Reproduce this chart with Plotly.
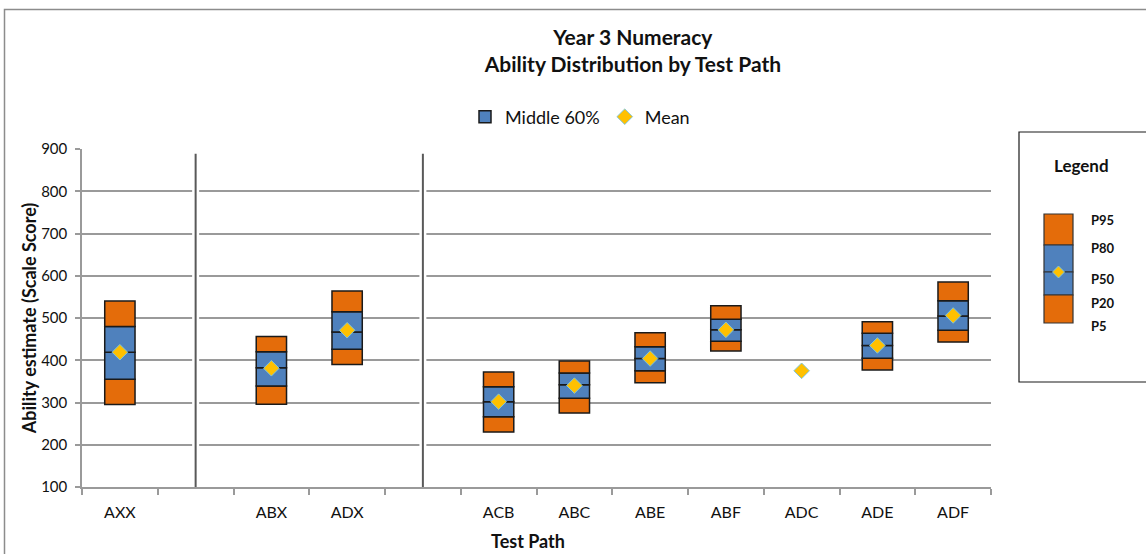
import plotly.graph_objects as go

# ---------------- data ----------------
categories = ["AXX", "", "ABX", "ADX", "", "ACB", "ABC", "ABE", "ABF", "ADC", "ADE", "ADF"]
p5 = [295, None, 296, 390, None, 230, 275, 347, 422, None, 377, 443]
p20 = [355, None, 339, 426, None, 266, 310, 375, 445, None, 405, 471]
p50 = [419, None, 382, 467, None, 302, 342, 404, 472, None, 435, 505]
p80 = [480, None, 420, 515, None, 337, 370, 432, 497, None, 464, 541]
p95 = [540, None, 456, 564, None, 372, 398, 465, 529, None, 491, 585]
mean = [419, None, 381, 471, None, 302, 340, 404, 472, 375, 435, 506]
separator_after = [1, 4]  # empty slots holding group separators
legend_labels = ["P95", "P80", "P50", "P20", "P5"]

ORANGE = "#E46C0A"
BLUE = "#4F81BD"
GOLD = "#FFC000"
EDGE = "#1a1a1a"
GRID = "#9a9a9a"
FONT = "Lato"

pos = list(range(len(categories)))


def diff(a, b):
    return [None if (x is None or y is None) else x - y for x, y in zip(a, b)]


fig = go.Figure()
segments = [
    (p5, p20, ORANGE, False, "P5-P20"),
    (p20, p50, BLUE, True, "Middle 60%"),
    (p50, p80, BLUE, False, "P50-P80"),
    (p80, p95, ORANGE, False, "P80-P95"),
]
for lo, hi, col, show, name in segments:
    fig.add_trace(go.Bar(
        x=pos, y=diff(hi, lo), base=lo, width=0.4,
        marker=dict(color=col, line=dict(color=EDGE, width=1.5)),
        name=name, showlegend=show, hoverinfo="skip",
    ))

fig.add_trace(go.Scatter(
    x=pos, y=mean, mode="markers", name="Mean",
    marker=dict(symbol="diamond", size=12, color=GOLD,
                line=dict(color="#7fc6d9", width=1)),
))

# ---------------- layout geometry ----------------
W, H = 1146, 554
L, R, T, B = 82, 991, 149, 487


def px(x):
    return (x - L) / (R - L)


def py(y):
    return (B - y) / (B - T)


shapes = []
# outer chart border
shapes.append(dict(type="rect", xref="paper", yref="paper",
                   x0=px(4.5), x1=px(1300), y0=py(9.5), y1=py(700),
                   line=dict(color="#8c8c8c", width=1.5), layer="below"))
# separators between test-path groups
for s in separator_after:
    shapes.append(dict(type="line", xref="x", yref="y", x0=s, x1=s, y0=101, y1=889,
                       line=dict(color="white", width=7), layer="above"))
    shapes.append(dict(type="line", xref="x", yref="y", x0=s, x1=s, y0=100, y1=889,
                       line=dict(color="#595959", width=2), layer="above"))

# custom legend box on the right
shapes.append(dict(type="rect", xref="paper", yref="paper",
                   x0=px(1019), x1=px(1300), y0=py(132), y1=py(382),
                   line=dict(color="#1a1a1a", width=1.2)))
gx0, gx1 = px(1044), px(1073)
for y0, y1, col in [(214, 245, ORANGE), (245, 272, BLUE), (272, 295, BLUE), (295, 323, ORANGE)]:
    shapes.append(dict(type="rect", xref="paper", yref="paper",
                       x0=gx0, x1=gx1, y0=py(y0), y1=py(y1),
                       fillcolor=col, line=dict(color="#333333", width=1.2)))
cx, cy = 1058.5, 272
d = 6
path = "M {},{} L {},{} L {},{} L {},{} Z".format(
    px(cx), py(cy - d), px(cx + d), py(cy), px(cx), py(cy + d), px(cx - d), py(cy))
shapes.append(dict(type="path", xref="paper", yref="paper", path=path,
                   fillcolor=GOLD, line=dict(color="#7fc6d9", width=1)))

annotations = [
    dict(text="<b>Legend</b>", xref="paper", yref="paper", x=px(1081), y=py(165),
         showarrow=False, font=dict(family=FONT, size=17, color="#111"),
         xanchor="center", yanchor="middle"),
    dict(text="<b>Test Path</b>", xref="paper", yref="paper", x=px(528), y=py(541),
         showarrow=False, font=dict(family=FONT, size=18, color="#111"),
         xanchor="center", yanchor="middle"),
]
for lab, yy in zip(legend_labels, [220, 248, 279, 303, 326]):
    annotations.append(dict(text="<b>%s</b>" % lab, xref="paper", yref="paper",
                            x=px(1089), y=py(yy), showarrow=False,
                            font=dict(family=FONT, size=13, color="#111"),
                            xanchor="left", yanchor="middle"))

fig.update_layout(
    width=W, height=H, autosize=False,
    margin=dict(l=L, r=W - R, t=T, b=H - B, pad=0),
    paper_bgcolor="white", plot_bgcolor="white",
    barmode="overlay",
    font=dict(family=FONT, size=15, color="#111"),
    title=dict(text="<b>Year 3 Numeracy<br>Ability Distribution by Test Path</b>",
               x=px(584), xanchor="center", y=1 - 45 / H, yanchor="middle",
               font=dict(family=FONT, size=21, color="#111")),
    legend=dict(orientation="h", x=px(580), xanchor="center", y=py(117), yanchor="middle",
                font=dict(family=FONT, size=18, color="#111"), traceorder="normal",
                itemwidth=30),
    xaxis=dict(range=[-0.5, len(categories) - 0.5],
               tickmode="array", tickvals=[i for i, c in enumerate(categories) if c],
               ticktext=[c for c in categories if c],
               ticks="", showgrid=False, zeroline=False,
               showline=True, linecolor=GRID, linewidth=1.5,
               ticklabelstandoff=10, tickfont=dict(size=16),
               minor=dict(tickmode="linear", tick0=-0.5, dtick=1, ticks="outside",
                          ticklen=6, tickcolor=GRID, tickwidth=1.5, showgrid=False),
               fixedrange=True),
    yaxis=dict(range=[100, 900], dtick=100, tick0=100,
               ticks="outside", ticklen=5, tickcolor=GRID, tickwidth=1.5,
               ticklabelstandoff=5,
               showgrid=True, gridcolor=GRID, gridwidth=1.5, zeroline=False,
               showline=True, linecolor=GRID, linewidth=1.5,
               title=dict(text="<b>Ability estimate (Scale Score)</b>", standoff=0,
                          font=dict(family=FONT, size=18, color="#111")),
               fixedrange=True),
    shapes=shapes, annotations=annotations,
)

fig.write_html("out.html", config={"displayModeBar": False},
               post_script="document.body.style.margin='0';")
